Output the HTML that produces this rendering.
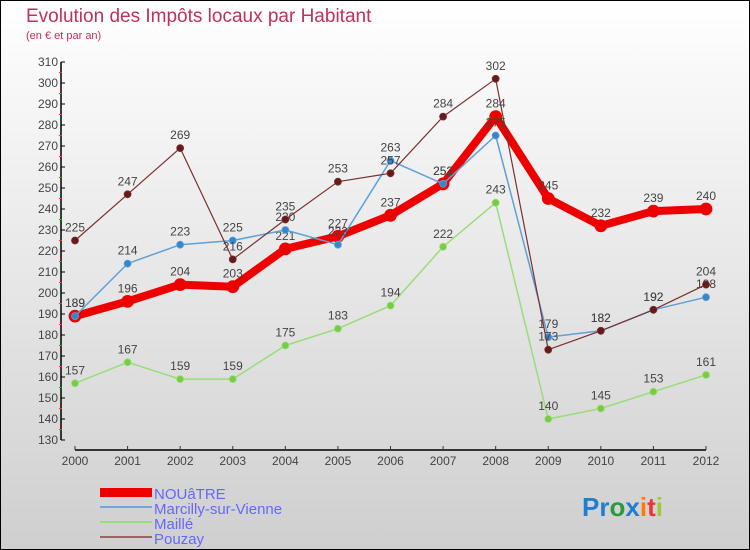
<!DOCTYPE html>
<html><head><meta charset="utf-8"><style>
html,body{margin:0;padding:0}
body{width:750px;height:550px;overflow:hidden;font-family:"Liberation Sans","DejaVu Sans",sans-serif}
#wrap{position:absolute;left:0;top:0;width:748px;height:548px;border:1px solid #000;background:linear-gradient(#ffffff,#cfcfcf)}
</style></head><body>
<div id="wrap">
<svg id="chart" width="750" height="550" style="position:absolute;left:-1px;top:-1px">
<text x="26" y="22" font-size="19" fill="#c0305a">Evolution des Impôts locaux par Habitant</text>
<text x="26" y="39" font-size="11" fill="#c0305a">(en € et par an)</text>
<g id="axes"></g><g id="series"></g>
<g>
<rect x="100" y="488" width="52" height="9" fill="#ee0000"/>
<text x="154" y="499" font-size="15" fill="#6666ff">NOUâTRE</text>
<rect x="100" y="506" width="52" height="2" fill="#6fa8d8"/>
<text x="154" y="514" font-size="15" fill="#6666ff">Marcilly-sur-Vienne</text>
<rect x="100" y="521" width="52" height="2" fill="#99dd77"/>
<text x="154" y="529" font-size="15" fill="#6666ff">Maillé</text>
<rect x="100" y="536" width="52" height="2" fill="#996666"/>
<text x="154" y="544" font-size="15" fill="#6666ff">Pouzay</text>
</g>
<g font-size="26" font-weight="bold">
<text x="582" y="516"><tspan fill="#1e7fd0">Pr</tspan><tspan fill="#2a9a3a">o</tspan><tspan fill="#1e7fd0">x</tspan><tspan fill="#ff7a00">i</tspan><tspan fill="#ee3333">t</tspan><tspan fill="#9acd32">i</tspan></text>
</g>
</svg>
</div>
<script>
const years=[2000,2001,2002,2003,2004,2005,2006,2007,2008,2009,2010,2011,2012];
const nouatre=[189,196,204,203,221,227,237,252,284,245,232,239,240];
const marcilly=[189,214,223,225,230,223,263,252,275,179,182,192,198];
const maille=[157,167,159,159,175,183,194,222,243,140,145,153,161];
const pouzay=[225,247,269,216,235,253,257,284,302,173,182,192,204];
const yTicks=[130,140,150,160,170,180,190,200,210,220,230,240,250,260,270,280,290,300,310];
const NS="http://www.w3.org/2000/svg";
function X(i){return 75+i*(706-75)/(years.length-1);}
function Y(v){return 440-(v-130)*2.1;}
function mk(tag,attrs,parent){const e=document.createElementNS(NS,tag);for(const k in attrs)e.setAttribute(k,attrs[k]);parent.appendChild(e);return e;}
const ax=document.getElementById('axes');
let yl=mk('line',{x1:61,y1:Y(310),x2:61,y2:Y(130),stroke:'#000','stroke-width':1.5},ax);


yTicks.forEach((t,i)=>{
  mk('line',{x1:61,y1:Y(t),x2:65,y2:Y(t),stroke:'#000'},ax);
  if(i<yTicks.length-1) mk('line',{x1:59,y1:Y(t+5),x2:62,y2:Y(t+5),stroke:'#ff3333'},ax);
  const tx=mk('text',{x:58,y:Y(t)+4,'text-anchor':'end','font-size':12,fill:'#444'},ax);
  tx.textContent=t;
  
  
});
let xl=mk('line',{x1:X(0),y1:450,x2:X(12),y2:450,stroke:'#000','stroke-width':1.5},ax);


years.forEach((y,i)=>{
  mk('line',{x1:X(i),y1:446,x2:X(i),y2:450,stroke:'#333'},ax);
  const tx=mk('text',{x:X(i),y:465,'text-anchor':'middle','font-size':12,fill:'#444'},ax);
  tx.textContent=y;
  
  
});
const sg=document.getElementById('series');
function series(vals,name,color,w,r,dot){
  const g=mk('g',{},sg);
  
  
  mk('polyline',{points:vals.map((v,i)=>X(i)+','+Y(v)).join(' '),fill:'none',stroke:color,'stroke-width':w,'stroke-linejoin':'round'},g);
  vals.forEach((v,i)=>{
    const c=mk('circle',{cx:X(i),cy:Y(v),r:r,fill:dot,stroke:color,'stroke-width':0.8},g);
    
    
    const t=mk('text',{x:X(i),y:Y(v)-9,'text-anchor':'middle','font-size':12,fill:'#444'},g);
    t.textContent=v;
    
    
  });
}
series(maille,'maille','#99dd77',1.5,3.5,'#77cc44');
series(nouatre,'nouatre','#ee0000',8,6,'#ee0000');
series(marcilly,'marcilly','#5fa0d8',1.5,3.5,'#3388cc');
series(pouzay,'pouzay','#7a3030',1.2,3.5,'#661a1a');
</script>
</body></html>
